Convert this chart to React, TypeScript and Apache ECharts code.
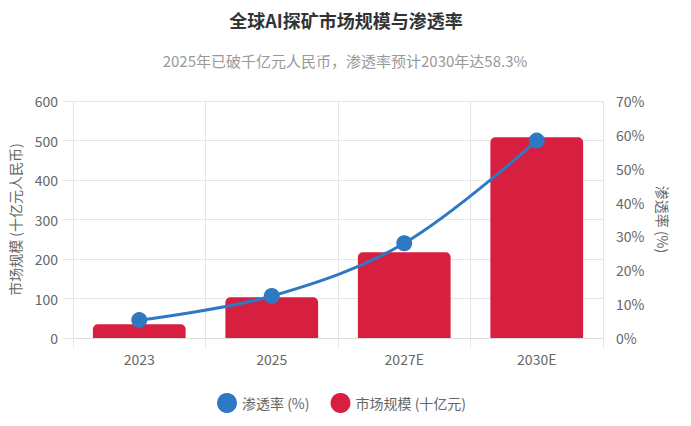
import React, { useEffect, useRef } from "react";
import * as echarts from "echarts";

const categories = ["2023", "2025", "2027E", "2030E"];
const marketSize = [35, 103, 217, 508];
const penetration = [5.3, 12.4, 28.0, 58.3];
const titleText = "全球AI探矿市场规模与渗透率";
const subtitleText = "2025年已破千亿元人民币，渗透率预计2030年达58.3%";
const barName = "市场规模 (十亿元)";
const lineName = "渗透率 (%)";

const FONT = "'Noto Sans CJK SC', 'Noto Sans', sans-serif";

export default function App() {
  const ref = useRef<HTMLDivElement>(null);
  useEffect(() => {
    if (!ref.current) return;
    const chart = echarts.init(ref.current, undefined, { renderer: "svg" });
    const grid = "#e6e6e6";
    chart.setOption({
      animation: false,
      backgroundColor: "#ffffff",
      textStyle: { fontFamily: FONT },
      title: [
        {
          text: titleText,
          left: 341,
          textAlign: "center",
          top: 6,
          textStyle: { fontFamily: FONT, fontSize: 18, fontWeight: "bold", color: "#333333" },
        },
        {
          text: subtitleText,
          left: 340,
          textAlign: "center",
          top: 48,
          textStyle: { fontFamily: FONT, fontSize: 15, fontWeight: "normal", color: "#999999" },
        },
      ],
      legend: {
        data: [
          { name: lineName, icon: "circle" },
          { name: barName, icon: "circle" },
        ],
        bottom: 8,
        left: 212,
        itemWidth: 20,
        itemHeight: 20,
        itemGap: 21,
        textStyle: { fontFamily: FONT, fontSize: 14, color: "#666666" },
      },
      grid: { left: 73, right: 88, top: 101, bottom: 88 },
      xAxis: {
        type: "category",
        data: categories,
        axisLine: { show: true, lineStyle: { color: "#dddddd", width: 1 } },
        axisTick: { show: true, length: 10, lineStyle: { color: grid } },
        splitLine: { show: true, lineStyle: { color: grid, width: 1 } },
        axisLabel: { fontFamily: FONT, fontSize: 14, color: "#666666", margin: 14 },
      },
      yAxis: [
        {
          type: "value",
          min: 0,
          max: 600,
          interval: 100,
          name: "市场规模 (十亿元人民币)",
          nameLocation: "middle",
          nameGap: 51,
          nameTextStyle: { fontFamily: FONT, fontSize: 14, color: "#666666" },
          axisLine: { show: false },
          axisTick: { show: true, length: 10, lineStyle: { color: grid } },
          splitLine: { show: true, lineStyle: { color: grid, width: 1 } },
          axisLabel: { fontFamily: FONT, fontSize: 14, color: "#666666", margin: 15 },
        },
        {
          type: "value",
          min: 0,
          max: 70,
          interval: 10,
          position: "right",
          name: "渗透率 (%)",
          nameLocation: "middle",
          nameRotate: -90,
          nameGap: 53,
          nameTextStyle: { fontFamily: FONT, fontSize: 14, color: "#666666" },
          axisLine: { show: false },
          axisTick: { show: false },
          splitLine: { show: false },
          axisLabel: {
            fontFamily: FONT,
            fontSize: 14,
            color: "#666666",
            margin: 13,
            formatter: "{value}%",
          },
        },
      ],
      series: [
        {
          name: barName,
          type: "bar",
          yAxisIndex: 0,
          data: marketSize,
          barWidth: "70%",
          itemStyle: { color: "#D71F3F", borderRadius: [5, 5, 0, 0] },
          z: 1,
        },
        {
          name: lineName,
          type: "line",
          yAxisIndex: 1,
          data: penetration,
          smooth: 0.35,
          symbol: "circle",
          symbolSize: 16,
          lineStyle: { color: "#2E79C2", width: 3 },
          itemStyle: { color: "#2E79C2" },
          z: 3,
        },
      ],
    });
    return () => chart.dispose();
  }, []);
  return (
    <div
      ref={ref}
      style={{ position: "fixed", left: 0, top: 0, width: 691, height: 426, background: "#fff" }}
    />
  );
}
